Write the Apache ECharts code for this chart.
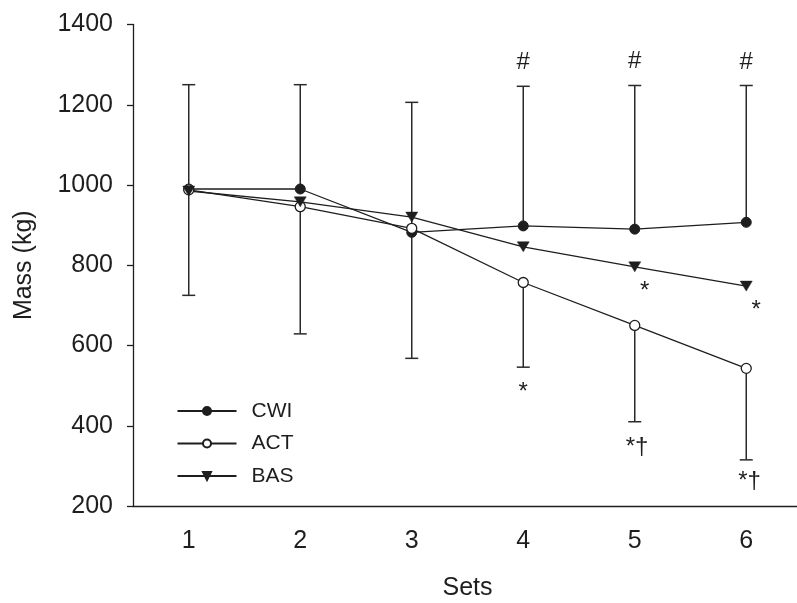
<!DOCTYPE html>
<html>
<head>
<meta charset="utf-8">
<script src="https://cdn.jsdelivr.net/npm/echarts@6/dist/echarts.min.js"></script>
<style>
html,body{margin:0;padding:0;background:#fff;}
#chart{width:797px;height:603px;}
</style>
</head>
<body>
<div id="chart"></div>
<script>
// ---- data ----
const sets = ['1', '2', '3', '4', '5', '6'];
const yTicks = [200, 400, 600, 800, 1000, 1200, 1400];
const cwi = [990, 990, 882, 898, 890, 907];
const act = [988, 946, 892, 757, 650, 543];
const bas = [985, 958, 920, 846, 796, 748];
// error bars: upper (from CWI mean) and lower (from ACT mean)
const errUpper = [1250, 1250, 1206, 1246, 1248, 1248];
const errLower = [725, 629, 568, 546, 410, 315];
// significance annotations (x in set units, y in kg)
const annText = ['#', '#', '#', '*', '*†', '*†', '*', '*'];
const annX = [4, 5, 6, 4, 5.02, 6.03, 5.09, 6.09];
const annY = [1305, 1309, 1305, 483, 346, 262, 735, 688];

const FONT = '"Liberation Sans", Arial, Helvetica, sans-serif';
const INK = '#1e1e1e';

const errData = [];
sets.forEach((s, i) => {
  errData.push([i, cwi[i], errUpper[i]]);
  errData.push([i, act[i], errLower[i]]);
});
const annData = annText.map((t, i) => [annX[i], annY[i], t]);

const chart = echarts.init(document.getElementById('chart'), null, {renderer: 'canvas'});
chart.setOption({
  animation: false,
  backgroundColor: '#fff',
  grid: {left: 133, right: -5, top: 24.5, bottom: 97, containLabel: false, outerBoundsMode: 'none'},
  xAxis: [{
    type: 'category',
    data: sets,
    boundaryGap: true,
    name: 'Sets',
    nameLocation: 'middle',
    nameGap: 70,
    nameTextStyle: {fontFamily: FONT, fontSize: 25, color: INK},
    axisLine: {lineStyle: {color: INK, width: 1.3}},
    axisTick: {alignWithLabel: true, length: 7, lineStyle: {color: INK, width: 1.3}},
    axisLabel: {fontFamily: FONT, fontSize: 25, color: INK, margin: 23},
    splitLine: {show: false}
  }, {
    type: 'value',
    min: 0.5, max: 6.5,
    show: false
  }],
  yAxis: {
    type: 'value',
    min: yTicks[0], max: yTicks[yTicks.length - 1], interval: 200,
    name: 'Mass (kg)',
    nameLocation: 'middle',
    nameGap: 96,
    nameTextStyle: {fontFamily: FONT, fontSize: 25, color: INK},
    axisLine: {show: true, lineStyle: {color: INK, width: 1.3}},
    axisTick: {show: true, length: 6, lineStyle: {color: INK, width: 1.3}},
    axisLabel: {fontFamily: FONT, fontSize: 25, color: INK, margin: 20, formatter: function (v) { return String(v); }},
    splitLine: {show: false}
  },
  legend: {
    orient: 'vertical',
    left: 176.5,
    top: 400.5,
    padding: 0,
    itemWidth: 59,
    itemHeight: 10,
    itemGap: 11.5,
    textStyle: {fontFamily: FONT, fontSize: 21, color: INK, lineHeight: 20, padding: [0, 0, 0, 10]},
    data: ['CWI', 'ACT', 'BAS']
  },
  series: [
    {
      type: 'custom',
      name: 'err',
      xAxisIndex: 0,
      data: errData,
      z: 1,
      renderItem: function (params, api) {
        const p0 = api.coord([api.value(0), api.value(1)]);
        const p1 = api.coord([api.value(0), api.value(2)]);
        const hw = 6.5;
        const st = {stroke: '#2a2a2a', lineWidth: 1.5};
        return {
          type: 'group',
          children: [
            {type: 'line', shape: {x1: p0[0], y1: p0[1], x2: p1[0], y2: p1[1]}, style: st},
            {type: 'line', shape: {x1: p1[0] - hw, y1: p1[1], x2: p1[0] + hw, y2: p1[1]}, style: st}
          ]
        };
      }
    },
    {
      name: 'CWI', type: 'line', data: cwi, z: 3,
      symbol: 'circle', symbolSize: 10,
      lineStyle: {color: INK, width: 1.3},
      itemStyle: {color: INK, borderColor: INK, borderWidth: 1}
    },
    {
      name: 'ACT', type: 'line', data: act, z: 3,
      symbol: 'circle', symbolSize: 10,
      lineStyle: {color: INK, width: 1.3},
      itemStyle: {color: '#fff', borderColor: INK, borderWidth: 1.3}
    },
    {
      name: 'BAS', type: 'line', data: bas, z: 3,
      symbol: 'triangle', symbolSize: [12, 10], symbolRotate: 180,
      lineStyle: {color: INK, width: 1.3},
      itemStyle: {color: INK, borderColor: INK, borderWidth: 0.5}
    },
    {
      type: 'custom',
      name: 'ann',
      xAxisIndex: 1,
      data: annData,
      z: 4,
      renderItem: function (params, api) {
        const p = api.coord([api.value(0), api.value(1)]);
        return {
          type: 'text',
          x: p[0], y: p[1],
          style: {
            text: annText[params.dataIndex],
            fontFamily: FONT, fontSize: 24, fill: INK,
            align: 'center', verticalAlign: 'middle'
          }
        };
      }
    }
  ]
});
</script>
</body>
</html>
